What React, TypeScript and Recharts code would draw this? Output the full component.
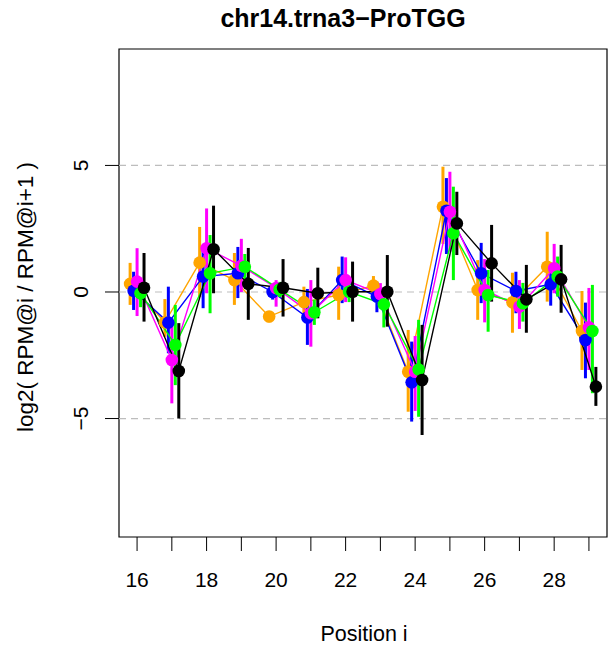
import React from "react";
import {
  ComposedChart,
  Line,
  XAxis,
  YAxis,
  ErrorBar,
  ReferenceLine,
  ReferenceArea,
} from "recharts";

const positions = [16, 17, 18, 19, 20, 21, 22, 23, 24, 25, 26, 27, 28, 29];
const xTicks = [16, 17, 18, 19, 20, 21, 22, 23, 24, 25, 26, 27, 28, 29];
const yTicks = [-5, 0, 5];

const orangeVal = [0.32, -1.2, 1.16, 0.47, -0.97, -0.4, -0.12, 0.25, -3.15, 3.37, 0.08, -0.41, 1.0, -1.54];
const orangeHi = [1.15, -0.28, 2.57, 1.54, -0.75, 0.21, 1.0, 0.63, -1.5, 4.95, 1.26, 0.76, 2.38, 0.04];
const orangeLo = [-0.51, -1.77, -0.2, -0.51, -1.2, -1.0, -1.1, -0.18, -4.73, 1.9, -1.1, -1.61, -0.38, -3.08];

const blueVal = [0.05, -1.21, 0.61, 0.74, 0.0, -1.01, 0.47, -0.18, -3.57, 3.21, 0.74, 0.04, 0.3, -1.9];
const blueHi = [0.8, 0.21, 1.79, 1.78, 0.3, 0.12, 1.4, 0.4, -1.96, 4.5, 1.94, 0.8, 0.8, -0.42];
const blueLo = [-0.71, -2.42, -0.64, -0.24, -0.3, -2.09, -0.44, -0.8, -5.12, 1.5, -0.44, -0.84, -0.54, -3.41];

const magentaVal = [0.41, -2.69, 1.73, 1.03, 0.16, -0.84, 0.47, -0.08, -3.15, 3.17, 0.08, -0.58, 0.94, -1.4];
const magentaHi = [1.73, -1.3, 3.3, 2.1, 0.47, 0.47, 1.37, 0.35, -1.74, 4.75, 1.3, 0.47, 1.9, 0.16];
const magentaLo = [-0.95, -4.4, -0.05, 0.0, -0.58, -2.16, -0.4, -0.55, -4.7, 1.6, -1.2, -1.46, -0.05, -3.08];

const greenVal = [-0.05, -2.09, 0.74, 1.0, 0.1, -0.8, 0.01, -0.49, -3.06, 2.32, -0.12, -0.45, 0.61, -1.54];
const greenHi = [0.5, -0.51, 2.25, 1.5, 0.4, -0.3, 0.4, -0.3, -1.1, 4.16, 0.87, 0.36, 1.4, 0.28];
const greenLo = [-0.6, -3.68, -0.84, 0.5, -0.2, -1.3, -0.4, -1.4, -4.93, 0.47, -1.57, -1.17, -0.18, -4.0];

const blackVal = [0.17, -3.12, 1.69, 0.32, 0.17, -0.05, 0.01, 0.01, -3.48, 2.71, 1.13, -0.29, 0.5, -3.74];
const blackHi = [1.54, -1.23, 3.41, 1.74, 1.3, 0.96, 1.2, 1.46, -1.3, 3.96, 2.65, 1.07, 1.86, -2.96];
const blackLo = [-1.17, -5.0, -0.05, -1.1, -0.97, -1.04, -1.17, -1.37, -5.65, 1.46, -0.38, -1.61, -0.82, -4.5];

const X_MIN = 15.48;
const X_MAX = 29.52;
const Y_MIN = -9.68;
const Y_MAX = 9.6;

const FONT = "'Liberation Sans', Arial, Helvetica, sans-serif";

type Series = {
  name: string;
  color: string;
  offset: number;
  val: number[];
  hi: number[];
  lo: number[];
};

const series: Series[] = [
  { name: "orange", color: "#FFA500", offset: -0.2, val: orangeVal, hi: orangeHi, lo: orangeLo },
  { name: "blue", color: "#0000FF", offset: -0.1, val: blueVal, hi: blueHi, lo: blueLo },
  { name: "magenta", color: "#FF00FF", offset: 0, val: magentaVal, hi: magentaHi, lo: magentaLo },
  { name: "green", color: "#00FF00", offset: 0.1, val: greenVal, hi: greenHi, lo: greenLo },
  { name: "black", color: "#000000", offset: 0.2, val: blackVal, hi: blackHi, lo: blackLo },
];

const buildData = (s: Series) =>
  positions.map((p, i) => ({
    x: p + s.offset,
    y: s.val[i],
    err: [s.val[i] - s.lo[i], s.hi[i] - s.val[i]],
  }));

const XTick = (props: any) => {
  const { x, payload } = props;
  const v = payload.value;
  return (
    <g>
      <line x1={x} y1={537} x2={x} y2={551} stroke="#000" strokeWidth={1} />
      {v % 2 === 0 ? (
        <text
          x={x}
          y={587}
          textAnchor="middle"
          fontFamily={FONT}
          fontSize={21}
          fill="#000"
        >
          {v}
        </text>
      ) : null}
    </g>
  );
};

const YTick = (props: any) => {
  const { y, payload } = props;
  const v = payload.value;
  const label = v < 0 ? "\u2212" + Math.abs(v) : String(v);
  return (
    <g>
      <line x1={105} y1={y} x2={119} y2={y} stroke="#000" strokeWidth={1} />
      <text
        x={88}
        y={y}
        textAnchor="middle"
        fontFamily={FONT}
        fontSize={21}
        fill="#000"
        transform={`rotate(-90, 88, ${y})`}
      >
        {label}
      </text>
    </g>
  );
};

const Dot = (color: string) => (props: any) => {
  const { cx, cy } = props;
  if (cx == null || cy == null) return null;
  return <circle key={`${cx}-${cy}`} cx={cx} cy={cy} r={6.3} fill={color} stroke="none" />;
};

export default function App() {
  return (
    <div style={{ position: "absolute", left: 0, top: 0, width: 612, height: 647, background: "#fff" }}>
      <ComposedChart
        width={612}
        height={647}
        margin={{ top: 49, right: 5, left: 0, bottom: 0 }}
      >
        <XAxis
          type="number"
          dataKey="x"
          domain={[X_MIN, X_MAX]}
          ticks={xTicks}
          allowDataOverflow
          axisLine={false}
          tickLine={false}
          tick={<XTick />}
          height={110}
          interval={0}
        />
        <YAxis
          type="number"
          domain={[Y_MIN, Y_MAX]}
          ticks={yTicks}
          allowDataOverflow
          axisLine={false}
          tickLine={false}
          tick={<YTick />}
          width={119}
          interval={0}
        />
        {yTicks.map((t) => (
          <ReferenceLine
            key={t}
            y={t}
            stroke="#bdbdbd"
            strokeWidth={1.2}
            strokeDasharray="7 5"
          />
        ))}
        {series.map((s) => (
          <Line
            key={s.name}
            data={buildData(s)}
            dataKey="y"
            type="linear"
            stroke={s.color}
            strokeWidth={1.4}
            dot={Dot(s.color)}
            activeDot={false}
            isAnimationActive={false}
          >
            <ErrorBar
              dataKey="err"
              direction="y"
              width={0}
              stroke={s.color}
              strokeWidth={3}
              isAnimationActive={false}
            />
          </Line>
        ))}
        <ReferenceArea
          x1={X_MIN}
          x2={X_MAX}
          y1={Y_MIN}
          y2={Y_MAX}
          fill="none"
          fillOpacity={0}
          stroke="#000"
          strokeWidth={1.2}
          ifOverflow="visible"
        />
        <text
          x={343}
          y={27}
          textAnchor="middle"
          fontFamily={FONT}
          fontSize={25}
          fontWeight="bold"
          fill="#000"
        >
          chr14.trna3−ProTGG
        </text>
        <text
          x={364}
          y={641}
          textAnchor="middle"
          fontFamily={FONT}
          fontSize={21.5}
          fill="#000"
        >
          Position i
        </text>
        <text
          x={33}
          y={297}
          textAnchor="middle"
          fontFamily={FONT}
          fontSize={22.5}
          fill="#000"
          transform="rotate(-90, 33, 297)"
        >
          log2( RPM@i / RPM@i+1 )
        </text>
      </ComposedChart>
    </div>
  );
}
